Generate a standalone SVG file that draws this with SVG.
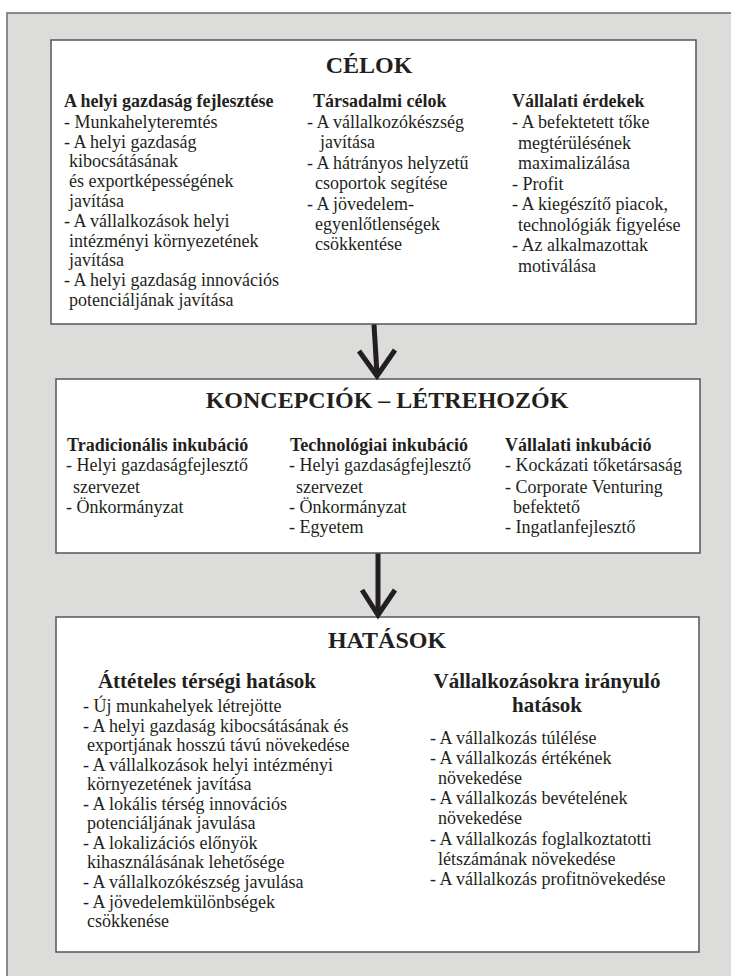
<svg xmlns="http://www.w3.org/2000/svg" width="731" height="976" viewBox="0 0 731 976">
<style>
text{font-family:"Liberation Serif","Times New Roman",serif;fill:#231f20}
.t{font-size:18px}
.h{font-size:18px;font-weight:bold}
.h2{font-size:21px;font-weight:bold;text-anchor:middle}
.ttl{font-size:24px;font-weight:bold;text-anchor:middle}
.box{fill:#ffffff;stroke:#555555;stroke-width:1.5}
.arr{fill:none;stroke:#231f20;stroke-width:5;stroke-linejoin:miter;stroke-linecap:butt}
</style>
<rect x="7" y="13" width="740" height="980" fill="#dcdcdb" stroke="#6a6a6a" stroke-width="1.5"/>

<g id="celok">
<rect class="box" x="51" y="40" width="645" height="284"/>
<text class="ttl" x="369" y="73">CÉLOK</text>
<text class="h" x="64" y="107">A helyi gazdaság fejlesztése</text>
<text class="t" x="64" y="127.7">- Munkahelyteremtés</text>
<text class="t" x="64" y="147.5">- A helyi gazdaság</text>
<text class="t" x="69" y="167.3">kibocsátásának</text>
<text class="t" x="69" y="187.1">és exportképességének</text>
<text class="t" x="69" y="206.9">javítása</text>
<text class="t" x="64" y="226.7">- A vállalkozások helyi</text>
<text class="t" x="69" y="246.5">intézményi környezetének</text>
<text class="t" x="69" y="266.3">javítása</text>
<text class="t" x="64" y="286.1">- A helyi gazdaság innovációs</text>
<text class="t" x="69" y="305.9">potenciáljának javítása</text>

<text class="h" x="313" y="107">Társadalmi célok</text>
<text class="t" x="307" y="128">- A vállalkozókészség</text>
<text class="t" x="320" y="148.4">javítása</text>
<text class="t" x="307" y="168.8">- A hátrányos helyzetű</text>
<text class="t" x="315" y="189.2">csoportok segítése</text>
<text class="t" x="307" y="209.6">- A jövedelem-</text>
<text class="t" x="315" y="230">egyenlőtlenségek</text>
<text class="t" x="315" y="250.4">csökkentése</text>

<text class="h" x="512" y="107">Vállalati érdekek</text>
<text class="t" x="512" y="128">- A befektetett tőke</text>
<text class="t" x="518" y="148.5">megtérülésének</text>
<text class="t" x="518" y="169">maximalizálása</text>
<text class="t" x="512" y="189.5">- Profit</text>
<text class="t" x="512" y="210">- A kiegészítő piacok,</text>
<text class="t" x="518" y="230.5">technológiák figyelése</text>
<text class="t" x="512" y="251">- Az alkalmazottak</text>
<text class="t" x="518" y="271.5">motiválása</text>
</g>

<g id="koncepciok">
<rect class="box" x="56" y="379" width="644" height="174"/>
<text class="ttl" x="387" y="408">KONCEPCIÓK – LÉTREHOZÓK</text>
<text class="h" x="67" y="451">Tradicionális inkubáció</text>
<text class="t" x="66" y="471">- Helyi gazdaságfejlesztő</text>
<text class="t" x="73" y="493">szervezet</text>
<text class="t" x="66" y="513">- Önkormányzat</text>

<text class="h" x="290" y="451">Technológiai inkubáció</text>
<text class="t" x="289" y="471">- Helyi gazdaságfejlesztő</text>
<text class="t" x="296" y="493">szervezet</text>
<text class="t" x="289" y="513">- Önkormányzat</text>
<text class="t" x="289" y="533">- Egyetem</text>

<text class="h" x="505" y="451">Vállalati inkubáció</text>
<text class="t" x="505" y="471">- Kockázati tőketársaság</text>
<text class="t" x="505" y="493">- Corporate Venturing</text>
<text class="t" x="513" y="513">befektető</text>
<text class="t" x="505" y="533">- Ingatlanfejlesztő</text>
</g>

<g id="hatasok">
<rect class="box" x="56" y="617" width="643" height="335"/>
<text class="ttl" x="387" y="648">HATÁSOK</text>
<text class="h2" x="207" y="688">Áttételes térségi hatások</text>
<text class="t" x="83" y="712">- Új munkahelyek létrejötte</text>
<text class="t" x="83" y="731.5">- A helyi gazdaság kibocsátásának és</text>
<text class="t" x="87" y="751.1">exportjának hosszú távú növekedése</text>
<text class="t" x="83" y="770.6">- A vállalkozások helyi intézményi</text>
<text class="t" x="87" y="790.2">környezetének javítása</text>
<text class="t" x="83" y="809.8">- A lokális térség innovációs</text>
<text class="t" x="87" y="829.3">potenciáljának javulása</text>
<text class="t" x="83" y="848.9">- A lokalizációs előnyök</text>
<text class="t" x="87" y="868.4">kihasználásának lehetősége</text>
<text class="t" x="83" y="888">- A vállalkozókészség javulása</text>
<text class="t" x="83" y="907.5">- A jövedelemkülönbségek</text>
<text class="t" x="87" y="927">csökkenése</text>

<text class="h2" x="547" y="688">Vállalkozásokra irányuló</text>
<text class="h2" x="547" y="712">hatások</text>
<text class="t" x="430" y="744">- A vállalkozás túlélése</text>
<text class="t" x="430" y="764.1">- A vállalkozás értékének</text>
<text class="t" x="438" y="784.2">növekedése</text>
<text class="t" x="430" y="804.3">- A vállalkozás bevételének</text>
<text class="t" x="438" y="824.4">növekedése</text>
<text class="t" x="430" y="844.5">- A vállalkozás foglalkoztatotti</text>
<text class="t" x="438" y="864.6">létszámának növekedése</text>
<text class="t" x="430" y="884.7">- A vállalkozás profitnövekedése</text>
</g>

<g id="connectors">
<path class="arr" d="M374 324.5 L377 374" stroke-width="4.5"/>
<path class="arr" d="M359 351 L377 376 L395 350"/>
<path class="arr" d="M378 553.5 L378 612"/>
<path class="arr" d="M362 590 L378 615 L395 590"/>
</g>
</svg>
